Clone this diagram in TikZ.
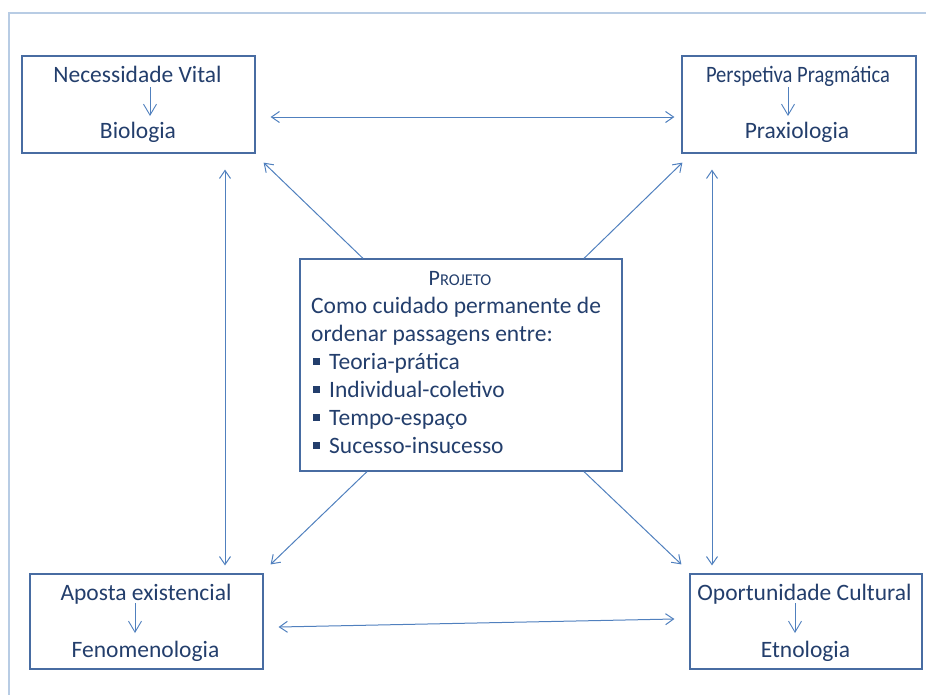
\documentclass[tikz,border=0pt]{standalone}
\usepackage{fontspec}
\setmainfont{Carlito}
\usetikzlibrary{arrows.meta}

\definecolor{txt}{RGB}{35,62,108}
\definecolor{edge}{RGB}{80,128,190}
\definecolor{boxline}{RGB}{72,108,162}
\definecolor{framecol}{RGB}{184,204,228}

\newcommand{\sqbullet}{\textcolor{txt}{\rule[5pt]{6.5pt}{6.5pt}}\hspace{9.5pt}}

\begin{document}
\begin{tikzpicture}[x=1pt,y=-1pt,
  panel/.style={draw=boxline,line width=1.2pt,inner sep=0pt,
    minimum width=#1},
  word/.style={inner sep=0pt,text=txt,anchor=base,
    font=\fontsize{23.5}{28}\selectfont},
  leftword/.style={word,anchor=base west},
  link/.style={draw=edge,line width=1pt,
    arrows={-Straight Barb[length=8pt,width=11pt]}},
  dlink/.style={link,
    arrows={Straight Barb[length=8pt,width=11pt]-Straight Barb[length=8pt,width=11pt]}},
  inner/.style={draw=edge,line width=0.9pt,
    arrows={-Straight Barb[length=11pt,width=13pt]}}]

\useasboundingbox (0,0) rectangle (926,694);

% outer frame: only its top and left edges fall inside the page
\draw[framecol,line width=2pt] (9,700) -- (9,13) -- (940,13);

% corner panels
\node[panel=233pt,minimum height=97pt] (tl) at (138.5,104.5) {};
\node[panel=234pt,minimum height=97pt] (tr) at (799,104.5) {};
\node[panel=233pt,minimum height=95pt] (bl) at (146.5,621.5) {};
\node[panel=232pt,minimum height=95pt] (br) at (806,621.5) {};

% central panel
\node[panel=322pt,minimum height=212pt] (mid) at (461,365) {};

% panel texts
\node[word] (tlA) at (137.5,82) {Necessidade Vital};
\node[word] (tlB) at (138,138) {Biologia};
\node[word] (trA) at (798,82) {\scalebox{0.875}[1]{Perspetiva Pragmática}};
\node[word] (trB) at (797,138) {Praxiologia};
\node[word] (blA) at (146,600) {Aposta existencial};
\node[word] (blB) at (145.5,657) {Fenomenologia};
\node[word] (brA) at (804.5,600) {Oportunidade Cultural};
\node[word] (brB) at (805.5,657) {Etnologia};

% inner arrows
\draw[inner] ([shift={(11.5,-17.5)}]tl.center) -- ([shift={(11.5,11.5)}]tl.center);
\draw[inner] ([shift={(-11,-17.5)}]tr.center) -- ([shift={(-11,11.5)}]tr.center);
\draw[inner] ([shift={(-11.5,-18.5)}]bl.center) -- ([shift={(-11.5,11.5)}]bl.center);
\draw[inner] ([shift={(-11,-18.5)}]br.center) -- ([shift={(-11,11.5)}]br.center);

% central text
\node[word] (title) at (460,285)
  {{\fontsize{22}{22}\selectfont P}{\fontsize{16.5}{22}\selectfont ROJETO}};
\node[leftword] (l1) at (311,313) {Como cuidado permanente de};
\node[leftword] (l2) at (311,341) {ordenar passagens entre:};
\node[leftword] (l3) at (313,369.5) {\sqbullet Teoria-prática};
\node[leftword] (l4) at (313,397.5) {\sqbullet Individual-coletivo};
\node[leftword] (l5) at (313,425.5) {\sqbullet Tempo-espaço};
\node[leftword] (l6) at (313,453.5) {\sqbullet Sucesso-insucesso};

% links between corner panels
\draw[dlink] ([shift={(15,12.5)}]tl.east) -- ([shift={(-7,12.5)}]tr.west);
\draw[dlink] ([shift={(86.5,16)}]tl.south) -- ([shift={(78.5,-8)}]bl.north);
\draw[dlink] ([shift={(-87,16)}]tr.south) -- ([shift={(-94,-8)}]br.north);
\draw[dlink] ([shift={(15,5.5)}]bl.east) -- ([shift={(-15,-2.5)}]br.west);

% links from the centre
\draw[link] ([shift={(-98,0)}]mid.north) -- ([shift={(8,9)}]tl.south east);
\draw[link] ([shift={(123,0)}]mid.north) -- ([shift={(1,9)}]tr.south west);
\draw[link] ([shift={(-94,0)}]mid.south) -- ([shift={(7,-9)}]bl.north east);
\draw[link] ([shift={(123,0)}]mid.south) -- ([shift={(-8,-9)}]br.north west);
\end{tikzpicture}
\end{document}
